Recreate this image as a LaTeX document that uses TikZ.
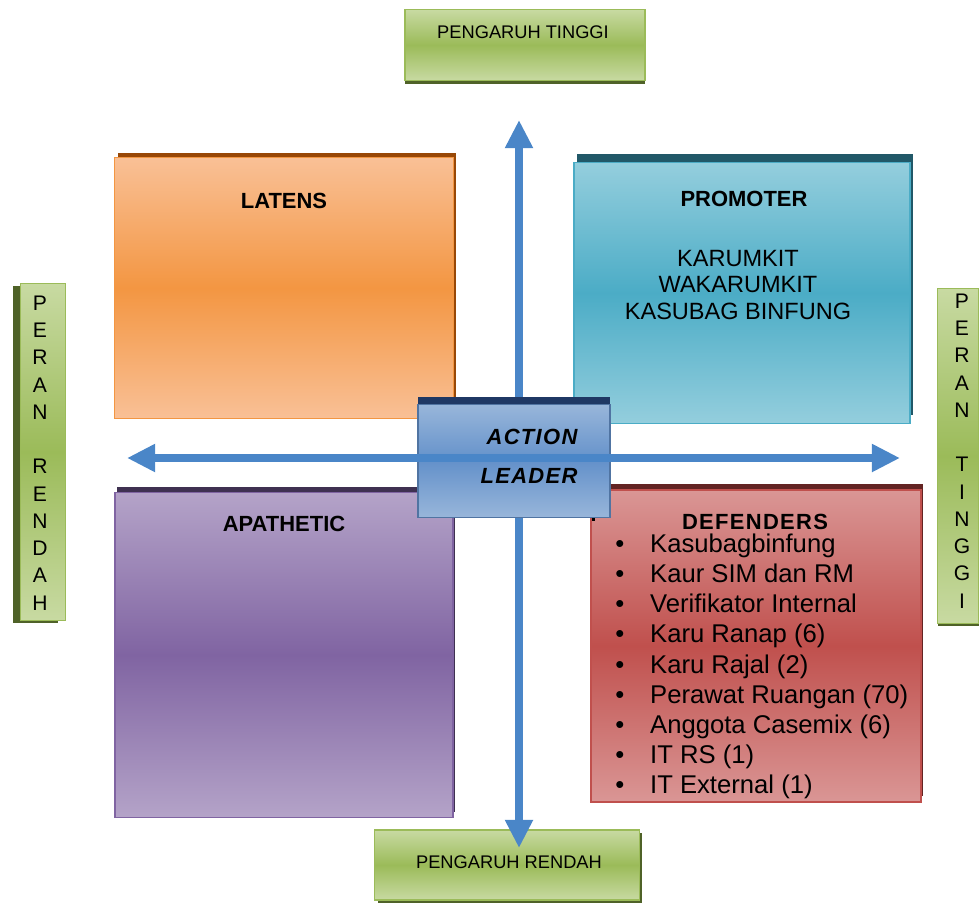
\documentclass[tikz,border=0pt]{standalone}
\usepackage{fontspec}
\setmainfont{Liberation Sans}
\newfontfamily\spacedfont[LetterSpace=6]{Liberation Sans}
\usetikzlibrary{arrows.meta,shadows}

\definecolor{axisblue}{RGB}{74,134,200}
\definecolor{grntop}{RGB}{200,218,162}
\definecolor{grnmid}{RGB}{155,187,89}
\definecolor{grndark}{RGB}{79,98,40}
\definecolor{lattop}{RGB}{249,192,150}
\definecolor{latmid}{RGB}{243,150,66}
\definecolor{latdark}{RGB}{152,72,7}
\definecolor{protop}{RGB}{148,206,221}
\definecolor{promid}{RGB}{75,172,198}
\definecolor{prodark}{RGB}{33,88,104}
\definecolor{apatop}{RGB}{180,163,200}
\definecolor{apamid}{RGB}{128,100,162}
\definecolor{apadark}{RGB}{63,49,81}
\definecolor{deftop}{RGB}{218,150,149}
\definecolor{defmid}{RGB}{192,80,77}
\definecolor{defdark}{RGB}{99,36,35}
\definecolor{acttop}{RGB}{152,182,218}
\definecolor{actmid}{RGB}{100,145,202}
\definecolor{actdark}{RGB}{31,56,100}

\tikzset{
  quad/.style={draw, line width=.7pt, inner sep=0pt},
  greenbox/.style={quad, draw=grnmid, top color=grntop, bottom color=grntop, middle color=grnmid},
  axis/.style={line width=4.5pt, axisblue, {Triangle[length=16pt,width=15pt]}-{Triangle[length=16pt,width=15pt]}},
  title/.style={inner sep=0pt, font=\bfseries\fontsize{12.5}{15}\selectfont},
  plain/.style={inner sep=0pt, font=\fontsize{13.4}{15.3}\selectfont},
  item/.style={inner sep=0pt, anchor=west, text height=11pt, text depth=3.4pt, font=\fontsize{14.6}{17}\selectfont},
  green text/.style={inner sep=0pt, font=\fontsize{10.4}{12}\selectfont},
  letters/.style={inner sep=0pt, align=center, font=\fontsize{12}{15.5}\selectfont}
}

\begin{document}
\begin{tikzpicture}[x=0.02cm, y=-0.02cm]
\useasboundingbox (0,0) rectangle (979,903);

\node[greenbox, minimum width=4.8cm, minimum height=1.42cm,
  general shadow={fill=grndark, shadow yshift=-1.8pt}] (infhigh) at (525,45) {};
\node[green text] (infhighlbl) at (523,32) {PENGARUH TINGGI};
\node[greenbox, minimum width=5.3cm, minimum height=1.4cm,
  general shadow={fill=grndark, shadow xshift=1.7pt, shadow yshift=-1.5pt}] (inflow) at (507,865) {};
\node[green text] (inflowlbl) at (509,862) {PENGARUH RENDAH};
\node[greenbox, minimum width=0.9cm, minimum height=6.74cm,
  general shadow={fill=grndark, shadow xshift=-4pt, shadow yshift=-1.5pt}] (rolelow) at (43,452) {};
\node[letters] (rolelowlbl) at (40,453) {P\\E\\R\\A\\N\\\mbox{}\\R\\E\\N\\D\\A\\H};
\node[greenbox, minimum width=0.82cm, minimum height=6.7cm,
  general shadow={fill=grndark, shadow yshift=-1.7pt}] (rolehigh) at (958,456) {};
\node[letters] (rolehighlbl) at (962,451) {P\\E\\R\\A\\N\\\mbox{}\\T\\I\\N\\G\\G\\I};

\node[quad, draw=latmid, top color=lattop, bottom color=lattop, middle color=latmid,
  minimum width=6.78cm, minimum height=5.22cm,
  general shadow={fill=latdark, shadow xshift=1.7pt, shadow yshift=2.3pt}] (latens) at (284,288) {};
\node[title] (latenslbl) at (284,201) {LATENS};

\node[quad, draw=promid, top color=protop, bottom color=protop, middle color=promid,
  minimum width=6.72cm, minimum height=5.22cm,
  general shadow={fill=prodark, shadow xshift=1.7pt, shadow yshift=5pt}] (promoter) at (742,293) {};
\node[title] (promoterlbl) at (744,199) {PROMOTER};
\node[plain, align=center] (promoterlist) at (738,285) {KARUMKIT\\WAKARUMKIT\\KASUBAG BINFUNG};

\node[quad, draw=apamid, top color=apatop, bottom color=apatop, middle color=apamid,
  minimum width=6.76cm, minimum height=6.5cm,
  general shadow={fill=apadark, shadow xshift=1.2pt, shadow yshift=3pt}] (apathetic) at (284,655) {};
\node[title] (apatheticlbl) at (284,524) {APATHETIC};

\node[quad, line width=1.1pt, draw=defmid, top color=deftop, bottom color=deftop, middle color=defmid,
  minimum width=6.6cm, minimum height=6.24cm,
  general shadow={fill=defdark, shadow xshift=1.2pt, shadow yshift=3.4pt}] (defenders) at (756,646) {};
\node[title, font=\spacedfont\bfseries\fontsize{12.5}{15}\selectfont] (defenderslbl) at (755,522) {DEFENDERS};
\foreach \t [count=\i] in {Kasubagbinfung, Kaur SIM dan RM, Verifikator Internal,
  Karu Ranap (6), Karu Rajal (2), Perawat Ruangan (70), Anggota Casemix (6),
  IT RS (1), IT External (1)}
  \node[item] (def\i) at (615,{546+30.1*(\i-1)}) {\makebox[19.8pt][l]{\textbullet}\t};
\fill (592,503) rectangle (595,521);

\coordinate (vtop) at (519,120);
\coordinate (vbot) at (519,848);
\coordinate (hleft) at (127,458);
\coordinate (hright) at (900,458);
\draw[axis] (vbot) -- (vtop);

\node[quad, draw=actmid!80!black, top color=acttop, bottom color=acttop, middle color=actmid,
  minimum width=3.84cm, minimum height=2.26cm,
  general shadow={fill=actdark, shadow yshift=4pt}] (action) at (514,461) {};
\draw[axis] (hleft) -- (hright);
\node[title, font=\spacedfont\bfseries\itshape\fontsize{12.5}{15}\selectfont] (actionlbl) at (532,437) {ACTION};
\node[title, font=\spacedfont\bfseries\itshape\fontsize{12.5}{15}\selectfont] (leaderlbl) at (529,476) {LEADER};
\end{tikzpicture}
\end{document}
